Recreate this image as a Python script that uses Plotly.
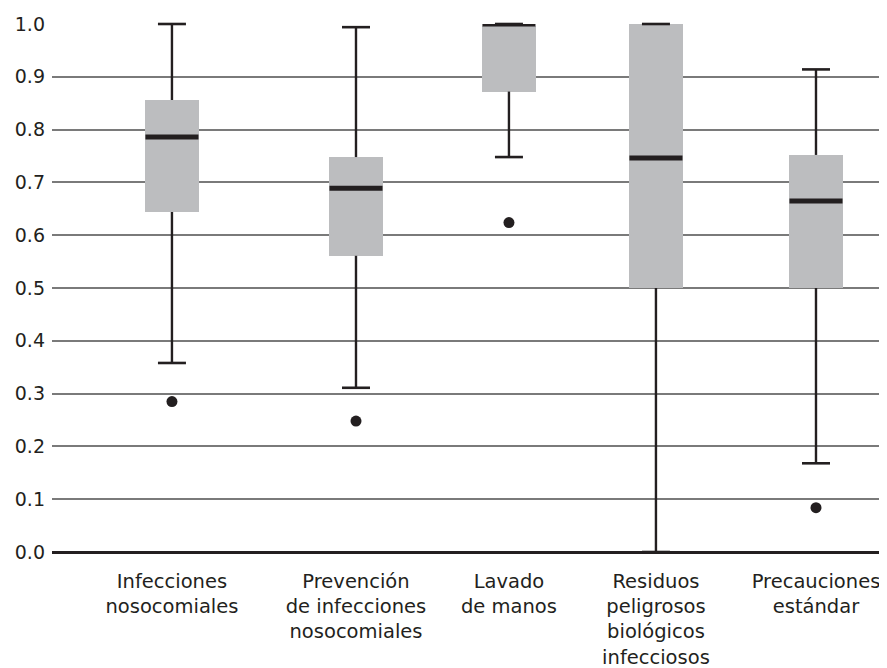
import plotly.graph_objects as go

categories = [
    "Infecciones<br>nosocomiales",
    "Prevención<br>de infecciones<br>nosocomiales",
    "Lavado<br>de manos",
    "Residuos<br>peligrosos<br>biológicos<br>infecciosos",
    "Precauciones<br>estándar",
]
lower_whisker = [0.358, 0.311, 0.748, 0.0, 0.168]
q1 = [0.644, 0.561, 0.872, 0.500, 0.500]
median = [0.786, 0.689, 1.000, 0.746, 0.665]
q3 = [0.856, 0.748, 0.997, 1.000, 0.752]
upper_whisker = [1.000, 0.994, 1.000, 1.000, 0.914]
outliers = [0.285, 0.248, 0.624, None, 0.084]

# layout: category positions along the x axis
x_pos = [0.0, 1.143, 2.093, 3.006, 4.0]

BOX = "#bcbdbf"
INK = "#231f20"
FONT = "DejaVu Sans, Liberation Sans, Arial, sans-serif"

fig = go.Figure()

# box bodies
fig.add_trace(go.Bar(
    x=x_pos, base=q1, y=[b - a for a, b in zip(q1, q3)],
    width=0.33, marker=dict(color=BOX, line=dict(width=0)),
    hoverinfo="skip", showlegend=False,
))

# whisker stems
wx, wy = [], []
for x, lo, a, b, hi in zip(x_pos, lower_whisker, q1, q3, upper_whisker):
    wx += [x, x, None, x, x, None]
    wy += [b, hi, None, a, lo, None]
fig.add_trace(go.Scatter(
    x=wx, y=wy, mode="lines", line=dict(color=INK, width=2.4),
    cliponaxis=False, showlegend=False, hoverinfo="skip",
))

# whisker caps
fig.add_trace(go.Scatter(
    x=x_pos + x_pos, y=upper_whisker + lower_whisker, mode="markers",
    marker=dict(symbol="line-ew", size=20, line=dict(color=INK, width=2.6)),
    cliponaxis=False, showlegend=False, hoverinfo="skip",
))

# medians
fig.add_trace(go.Scatter(
    x=x_pos, y=median, mode="markers",
    marker=dict(symbol="line-ew", size=37.9, line=dict(color=INK, width=5)),
    cliponaxis=True, showlegend=False, hoverinfo="skip",
))

# outliers
ox = [x for x, o in zip(x_pos, outliers) if o is not None]
oy = [o for o in outliers if o is not None]
fig.add_trace(go.Scatter(
    x=ox, y=oy, mode="markers",
    marker=dict(symbol="circle", size=11, color=INK),
    showlegend=False, hoverinfo="skip",
))

fig.update_layout(
    width=879, height=660,
    margin=dict(l=44, r=0, t=16, b=116),
    paper_bgcolor="white", plot_bgcolor="white",
    font=dict(family=FONT, color=INK, size=19.5),
    bargap=0,
)
fig.update_xaxes(
    range=[-0.745, 4.441], tickvals=x_pos, ticktext=categories,
    showgrid=False, zeroline=False, showline=False, ticks="",
    tickfont=dict(size=19.5, color=INK, family=FONT), ticklabelstandoff=15,
    automargin=False,
)
fig.update_yaxes(
    range=[0, 1.0], tickvals=[i / 10 for i in range(11)],
    ticktext=[f"{i / 10:.1f}" for i in range(11)],
    showgrid=True, gridcolor="#7a7a7a", gridwidth=1.5,
    zeroline=True, zerolinecolor=INK, zerolinewidth=3,
    showline=False, ticks="", ticklabelstandoff=6,
    tickfont=dict(size=19, color=INK, family=FONT),
    automargin=False,
)

fig.write_html("out.html")
